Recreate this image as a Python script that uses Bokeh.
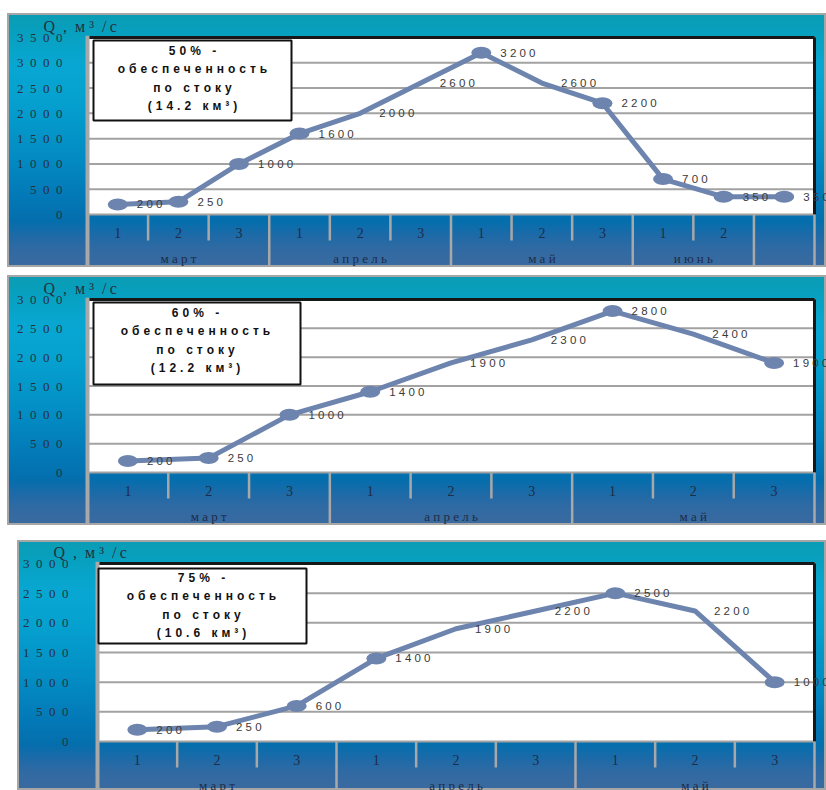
from bokeh.plotting import figure
from bokeh.layouts import column
from bokeh.models import Range1d, FixedTicker, CustomJSTickFormatter, Label, BoxAnnotation
from bokeh.core.properties import value
from bokeh.embed import file_html
from bokeh.resources import INLINE

# ---- data: mean discharge per ten-day period (декада), m³/s ----
decades_50 = ["1", "2", "3", "1", "2", "3", "1", "2", "3", "1", "2", ""]
months_50 = ["март", "апрель", "май", "июнь", ""]
month_len_50 = [3, 3, 3, 2, 1]
q_50 = [200, 250, 1000, 1600, 2000, 2600, 3200, 2600, 2200, 700, 350, 350]
ticks_50 = [0, 500, 1000, 1500, 2000, 2500, 3000, 3500]
title_50 = ["50% -", "обеспеченность", "по стоку", "(14.2 км³)"]

decades_60 = ["1", "2", "3", "1", "2", "3", "1", "2", "3"]
months_60 = ["март", "апрель", "май"]
month_len_60 = [3, 3, 3]
q_60 = [200, 250, 1000, 1400, 1900, 2300, 2800, 2400, 1900]
ticks_60 = [0, 500, 1000, 1500, 2000, 2500, 3000]
title_60 = ["60% -", "обеспеченность", "по стоку", "(12.2 км³)"]

decades_75 = ["1", "2", "3", "1", "2", "3", "1", "2", "3"]
months_75 = ["март", "апрель", "май"]
month_len_75 = [3, 3, 3]
q_75 = [200, 250, 600, 1400, 1900, 2200, 2500, 2200, 1000]
ticks_75 = [0, 500, 1000, 1500, 2000, 2500, 3000]
title_75 = ["75% -", "обеспеченность", "по стоку", "(10.6 км³)"]

# periods drawn without a marker on the hydrograph
no_marker = [4, 5, 7]

UNIT_CAPTION = "Q\u2002,\u2002м ³\u2002/\u2009с"

# ---- style ----
LINE_COLOR = "#6d84ae"
GRID_COLOR = "#a2a2a2"
DIV_COLOR = "#a8a8a8"
AXIS_TEXT = "#26313c"
BAND_TEXT = "#1d2c48"
SERIF = "Liberation Serif"
SANS = "Liberation Sans"
GRADIENT = ("linear-gradient(180deg, #0b9cb3 0%, #07a0bf 8%, #08a7d2 20%, #05a0cf 35%, "
            "#038dc4 55%, #0379b7 72%, #056ead 82%, #1f6aa7 88%, #316aa3 93%, #3a6a9f 100%)")


def spaced(s, gap=" "):
    """Letter-spaced text; word gaps are widened with a no-break space."""
    words = s.split(" ")
    return (gap + "\u00a0" + gap).join(gap.join(w) for w in words)


def build_panel(decades, months, month_len, q, ticks, title_lines, *, fig_w, fig_h,
                top_px, white_px, band_px, margin, standoff, box, box_text, q_offset):
    n = len(decades)
    left_px = 77
    cat_w = (fig_w - left_px - 3 - 12) / n
    ymax = ticks[-1]
    k = white_px / ymax            # pixels per m³/s
    y0 = -band_px / k

    p = figure(width=fig_w, height=fig_h,
               x_range=Range1d(0.5 - 3 / cat_w, n + 0.5 + 12 / cat_w),
               y_range=Range1d(y0, ymax + 2 / k),
               output_backend="svg", toolbar_location=None, x_axis_location=None,
               min_border_left=left_px, min_border_right=0,
               min_border_top=top_px, min_border_bottom=0,
               background_fill_alpha=0, border_fill_alpha=0, outline_line_color=None,
               margin=margin,
               styles={"background-image": GRADIENT,
                       "outline": "2px solid #a6a6a6", "outline-offset": "-2px"})
    p.grid.visible = False

    # unit caption above the value axis
    p.title.text = UNIT_CAPTION
    p.title.align = "left"
    p.title.offset = q_offset
    p.title.standoff = 2
    p.title.text_font = SERIF
    p.title.text_font_style = "normal"
    p.title.text_font_size = "16px"
    p.title.text_color = AXIS_TEXT

    ax = p.yaxis[0]
    ax.ticker = FixedTicker(ticks=ticks)
    ax.formatter = CustomJSTickFormatter(code="return String(tick).split('').join('\u2002')")
    ax.axis_line_color = None
    ax.major_tick_line_color = None
    ax.minor_tick_line_color = None
    ax.major_tick_in = 0
    ax.major_tick_out = 0
    ax.major_label_standoff = standoff
    ax.major_label_text_font = SERIF
    ax.major_label_text_font_size = "13px"
    ax.major_label_text_color = AXIS_TEXT

    xs = list(range(1, n + 1))
    lo, hi = 0.5, n + 0.5

    # plotting area and horizontal grid
    p.quad(left=[lo], right=[hi], bottom=[0], top=[ymax], fill_color="white", line_color=None)
    p.segment(x0=[lo] * len(ticks), x1=[hi] * len(ticks), y0=ticks, y1=ticks,
              line_color=GRID_COLOR, line_width=2)
    # dark top/right edge and grey left edge
    p.segment(x0=[lo, hi], x1=[hi, hi], y0=[ymax, 0], y1=[ymax, ymax],
              line_color="#171717", line_width=3)
    p.segment(x0=[lo], x1=[lo], y0=[y0], y1=[ymax + 2 / k], line_color=DIV_COLOR, line_width=4)

    # category band: dividers between decades (short) and months (full height)
    month_ends = []
    acc = 0
    for m in month_len:
        acc += m
        month_ends.append(acc)
    div_x, div_y1 = [], []
    for i in range(1, n + 1):
        div_x.append(i + 0.5)
        div_y1.append(y0 if i in month_ends else -26 / k)
    p.segment(x0=div_x, x1=div_x, y0=[0] * n, y1=div_y1, line_color=DIV_COLOR, line_width=2.5)

    p.text(x=xs, y=[0] * n, text=decades, y_offset=18, text_align="center",
           text_baseline="middle", text_font=value(SERIF), text_font_size="14px",
           text_color=BAND_TEXT)
    mx, mt = [], []
    start = 0
    for name, m in zip(months, month_len):
        if name:
            mx.append(start + (m + 1) / 2)
            mt.append(spaced(name))
        start += m
    p.text(x=mx, y=[0] * len(mx), text=mt, y_offset=44, text_align="center",
           text_baseline="middle", text_font=value(SERIF), text_font_size="13px",
           text_color=BAND_TEXT)

    # hydrograph
    p.line(x=xs, y=q, line_color=LINE_COLOR, line_width=5, line_join="round")
    mk = [i for i in range(n) if i not in no_marker]
    p.ellipse(x=[xs[i] for i in mk], y=[q[i] for i in mk], width=20, height=12,
              width_units="screen", height_units="screen",
              fill_color=LINE_COLOR, line_color=None)
    p.text(x=xs, y=q, text=[spaced(str(v)) for v in q], x_offset=19,
           text_align="left", text_baseline="middle", text_font=value(SANS),
           text_font_size="11.5px", text_color="#3a3a3a")

    # caption box
    bl, br, bt, bb = box
    p.add_layout(BoxAnnotation(left=bl, right=br, top=bt, bottom=bb,
                               left_units="screen", right_units="screen",
                               top_units="screen", bottom_units="screen",
                               fill_color="white", fill_alpha=1,
                               line_color="#111111", line_width=2, line_alpha=1))
    p.add_layout(Label(x=box_text[0], y=box_text[1], x_units="screen", y_units="screen",
                       text="\n".join(spaced(s, "\u2004") for s in title_lines),
                       text_align="center", text_baseline="middle",
                       text_font=SANS, text_font_style="bold", text_font_size="12px",
                       text_line_height=1.33, text_color="#111111"))
    return p


p50 = build_panel(decades_50, months_50, month_len_50, q_50, ticks_50, title_50,
                  fig_w=819, fig_h=254, top_px=22, white_px=177, band_px=53,
                  margin=(13, 0, 0, 7), standoff=22,
                  box=(9, 207, 227, 147), box_text=(108, 189), q_offset=-41)
p60 = build_panel(decades_60, months_60, month_len_60, q_60, ticks_60, title_60,
                  fig_w=819, fig_h=250, top_px=22, white_px=173, band_px=53,
                  margin=(8, 0, 0, 7), standoff=22,
                  box=(9, 216, 223, 141), box_text=(111, 185), q_offset=-41)
p75 = build_panel(decades_75, months_75, month_len_75, q_75, ticks_75, title_75,
                  fig_w=809, fig_h=250, top_px=21, white_px=178, band_px=49,
                  margin=(15, 0, 0, 17), standoff=26,
                  box=(4, 212, 222, 147), box_text=(107, 185), q_offset=-41)

layout = column(p50, p60, p75, spacing=0)
open("out.html", "w").write(file_html(layout, INLINE))
